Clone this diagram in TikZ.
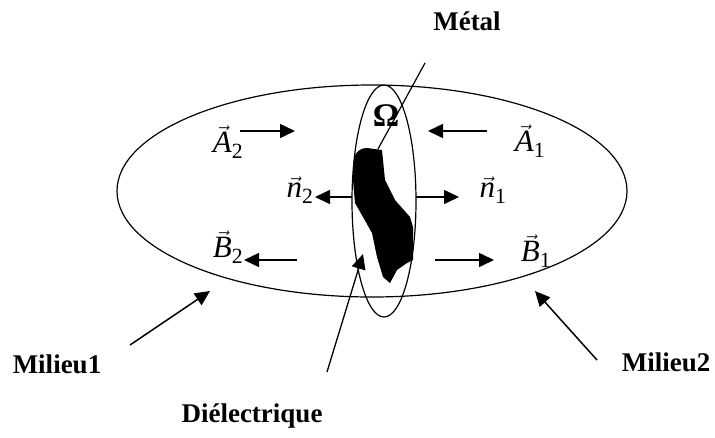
\documentclass[tikz,border=0pt]{standalone}
\usepackage{fontspec}
\setmainfont{Liberation Serif}
\usetikzlibrary{arrows.meta}
\tikzset{
  lab/.style={font=\fontsize{27}{30}\selectfont\bfseries, inner sep=0pt},
  vlab/.style={font=\fontsize{31}{34}\selectfont, inner sep=0pt},
  arr/.style={line width=1.5pt, -{Triangle[length=15pt,width=14pt]}},
  thinarr/.style={line width=1.3pt, -{Triangle[length=15pt,width=14pt]}},
  outline/.style={line width=1.2pt}
}
\newcommand{\vv}[2]{$\vec{\mbox{\itshape #1}}$\textsubscript{#2}}
\begin{document}
\begin{tikzpicture}[x=1pt,y=-1pt]
\useasboundingbox (0,0) rectangle (715,437);
% ellipses
\draw[outline] (372,191) ellipse [x radius=255, y radius=106];
\draw[outline] (384,201) ellipse [x radius=32, y radius=116];
% metal blob
\fill[black] (355,155) .. controls (358,150) and (362,148) .. (367,148)
  -- (382,150) -- (385,180) -- (395,200) -- (410,217) -- (413,227)
  -- (413,260) -- (407,263) -- (397,270) -- (390,283) -- (383,277)
  -- (377,257) -- (372,233) -- (363,217) -- (355,203) -- (353,180)
  -- (353,165) -- cycle;
% labels
\node[lab] (metal) at (467,21) {Métal};
\node[font=\fontsize{33}{36}\selectfont\bfseries, inner sep=0pt] (omega) at (386,116) {Ω};
\node[lab] (m1) at (57,364) {Milieu1};
\node[lab] (m2) at (666,362) {Milieu2};
\node[lab] (diel) at (252,416) {Diélectrique};
\node[vlab] (A2) at (228,142) {\vv{A}{2}};
\node[vlab] (A1) at (530,141) {\vv{A}{1}};
\node[vlab] (n2) at (300,190) {\vv{n}{2}};
\node[vlab] (n1) at (493,190) {\vv{n}{1}};
\node[vlab] (B2) at (228,247) {\vv{B}{2}};
\node[vlab] (B1) at (536,251) {\vv{B}{1}};
% coordinates
\coordinate (a2s) at (240,131); \coordinate (a2e) at (295,131);
\coordinate (a1s) at (487,131); \coordinate (a1e) at (428,131);
\coordinate (n2s) at (352,197); \coordinate (n2e) at (315,197);
\coordinate (n1s) at (416,197); \coordinate (n1e) at (459,197);
\coordinate (b2s) at (297,260); \coordinate (b2e) at (244,260);
\coordinate (b1s) at (435,260); \coordinate (b1e) at (494,260);
\coordinate (mets) at (425,63); \coordinate (mete) at (378,149);
\coordinate (m1s) at (130,345); \coordinate (m1e) at (210,291);
\coordinate (m2s) at (597,360); \coordinate (m2e) at (535,291);
\coordinate (ds) at (327,372); \coordinate (de) at (363,254);
% arrows
\draw[arr] (a2s) -- (a2e);
\draw[arr] (a1s) -- (a1e);
\draw[arr] (n2s) -- (n2e);
\draw[arr] (n1s) -- (n1e);
\draw[arr] (b2s) -- (b2e);
\draw[arr] (b1s) -- (b1e);
\draw[line width=1.2pt] (mets) -- (mete);
\draw[arr] (m1s) -- (m1e);
\draw[arr] (m2s) -- (m2e);
\draw[thinarr] (ds) -- (de);
\end{tikzpicture}
\end{document}
